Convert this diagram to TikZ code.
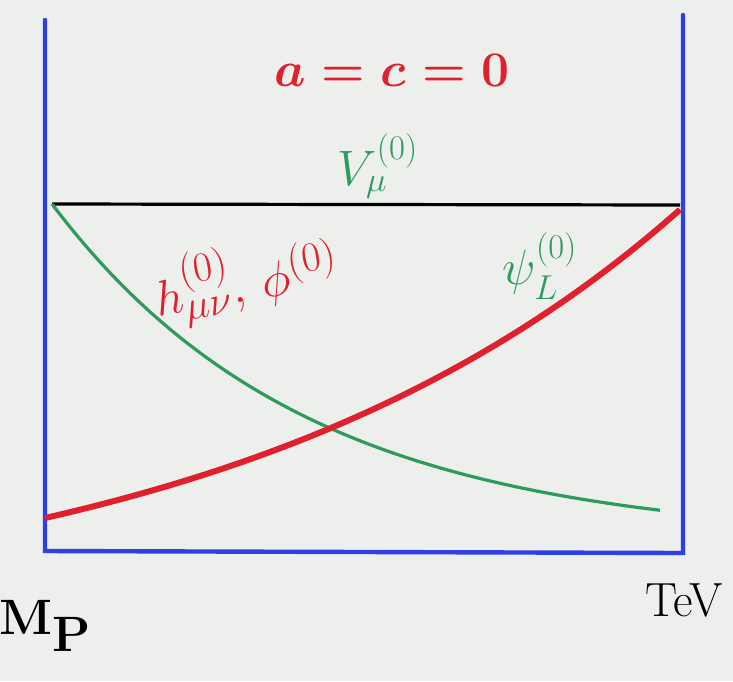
\documentclass[tikz,border=0pt]{standalone}
\usepackage{amsmath}
\definecolor{bg}{HTML}{EDEFEC}
\definecolor{axblue}{HTML}{2F3FE6}
\definecolor{hred}{HTML}{E0202C}
\definecolor{hgreen}{HTML}{2E9A5C}
\tikzset{
  wall/.style={axblue, line width=2.2pt, line cap=round},
  redlbl/.style={text=hred, font=\fontsize{30}{34}\selectfont},
  greenlbl/.style={text=hgreen, font=\fontsize{26}{30}\selectfont},
  blacklbl/.style={text=black, font=\fontsize{32}{36}\selectfont},
}
\begin{document}
\begin{tikzpicture}[x=0.5pt,y=-0.5pt]
\useasboundingbox (0,0) rectangle (733,681);
\fill[bg] (0,0) rectangle (733,681);
% walls
\coordinate (lt) at (45,20);
\coordinate (lb) at (45,551);
\coordinate (rt) at (683,15);
\coordinate (rb) at (683,553);
\draw[wall] (lt) -- (lb) -- (rb) -- (rt);
% black brane line
\coordinate (bl) at (52,204);
\coordinate (br) at (680,205);
\draw[black, line width=1.6pt] (bl) -- (br);
% green curve
\draw[hgreen, line width=1.6pt, domain=52:660, samples=80, smooth]
  plot (\x,{204+337*(1-exp(-0.003934*(\x-52)))});
% red curve
\draw[hred, line width=3pt, domain=45:680, samples=80, smooth]
  plot (\x,{518-107*(exp(0.00214*(\x-45))-1)});
% labels
\node[redlbl, font=\fontsize{33}{36}\selectfont] (ac) at (392,70) {$\boldsymbol{a=c=0}$};
\node[greenlbl] (V) at (378,166) {$V_{\mu}^{(0)}$};
\node[redlbl, rotate=10] (h) at (246,280) {$h^{(0)}_{\mu\nu},\,\phi^{(0)}$};
\node[greenlbl] (psi) at (540,266) {$\psi_{L}^{(0)}$};
\node[blacklbl, font=\fontsize{36}{40}\selectfont] (mp) at (46,626) {$\mathbf{M}_{\mathbf{P}}$};
\node[blacklbl, font=\fontsize{24}{28}\selectfont] (tev) at (684,600) {TeV};
\end{tikzpicture}
\end{document}
